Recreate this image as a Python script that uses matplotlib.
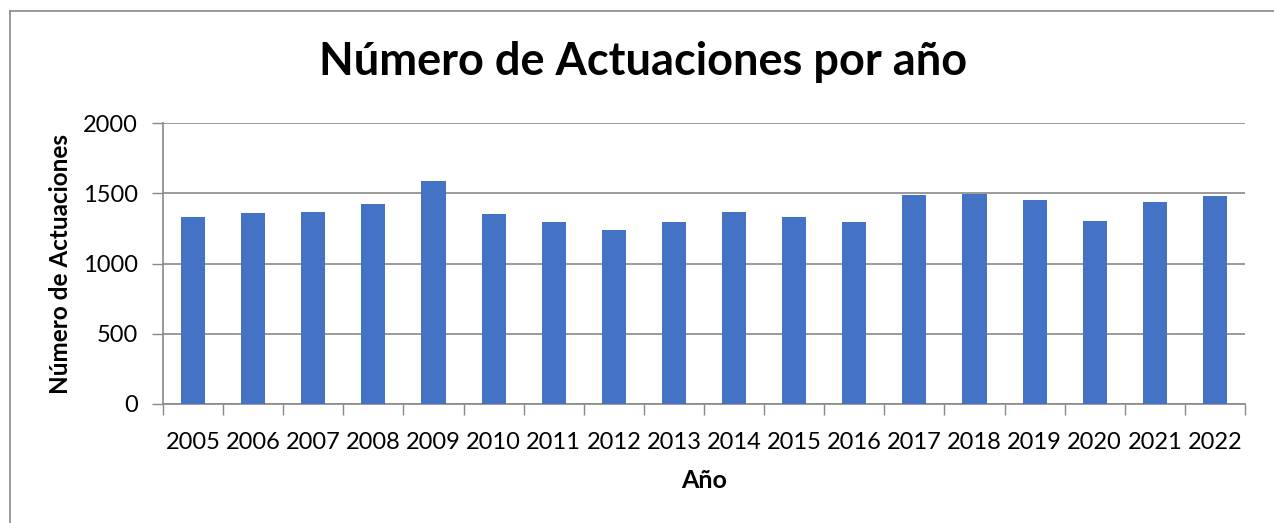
import numpy as np
import matplotlib.pyplot as plt
from matplotlib.lines import Line2D

years = ['2005', '2006', '2007', '2008', '2009', '2010', '2011', '2012', '2013',
         '2014', '2015', '2016', '2017', '2018', '2019', '2020', '2021', '2022']
actuaciones = [1328, 1356, 1363, 1427, 1590, 1349, 1292, 1235, 1292,
               1363, 1328, 1292, 1484, 1493, 1449, 1299, 1441, 1477]

plt.rcParams['font.family'] = ['Lato', 'DejaVu Sans']
gris = '#898989'

fig = plt.figure(figsize=(12.74, 5.23), dpi=100)
ax = fig.add_axes([163 / 1274, 1 - 404 / 523, (1245 - 163) / 1274, (404 - 123) / 523])

x = np.arange(len(years))
ax.bar(x, actuaciones, width=0.4, color='#4472C4', zorder=3)

ax.set_xlim(-0.5, len(years) - 0.5)
ax.set_ylim(0, 2000)
ax.set_yticks([0, 500, 1000, 1500, 2000])
ax.yaxis.grid(True, color=gris, linewidth=1.2, zorder=0)

# ticks at category boundaries, labels centred
ax.set_xticks(np.arange(-0.5, len(years)), minor=False)
ax.set_xticklabels([])
ax.set_xticks(x, minor=True)
ax.set_xticklabels(years, minor=True)
ax.tick_params(axis='x', which='major', length=8, color=gris, width=1)
ax.tick_params(axis='x', which='minor', length=0, labelsize=17, pad=20)
ax.tick_params(axis='y', length=8, color=gris, width=1, labelsize=17, pad=10)

for s in ['top', 'right']:
    ax.spines[s].set_visible(False)
for s in ['left', 'bottom']:
    ax.spines[s].set_color(gris)
    ax.spines[s].set_linewidth(1.2)

ax.set_xlabel('Año', fontsize=18, fontweight='bold', labelpad=12)
ax.set_ylabel('Número de Actuaciones', fontsize=17.5, fontweight='bold', labelpad=8)

fig.text(0.505, 1 - 62 / 523, 'Número de Actuaciones por año', ha='center', va='center',
         fontsize=32.5, fontweight='bold')

# chart area border (top and left edges visible)
fig.add_artist(Line2D([10 / 1274, 1], [1 - 11 / 523] * 2, color=gris, linewidth=1.2,
                      transform=fig.transFigure))
fig.add_artist(Line2D([10 / 1274] * 2, [0, 1 - 11 / 523], color=gris, linewidth=1.2,
                      transform=fig.transFigure))

fig.savefig('out.png', dpi=100)
